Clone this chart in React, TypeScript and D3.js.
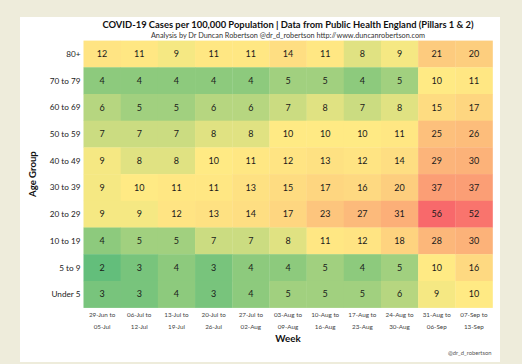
import React from "react";
import * as d3 from "d3";

const weeksStart = ["29-Jun to", "06-Jul to", "13-Jul to", "20-Jul to", "27-Jul to", "03-Aug to", "10-Aug to", "17-Aug to", "24-Aug to", "31-Aug to", "07-Sep to"];
const weeksEnd = ["05-Jul", "12-Jul", "19-Jul", "26-Jul", "02-Aug", "09-Aug", "16-Aug", "23-Aug", "30-Aug", "06-Sep", "13-Sep"];
const ageGroups = ["80+", "70 to 79", "60 to 69", "50 to 59", "40 to 49", "30 to 39", "20 to 29", "10 to 19", "5 to 9", "Under 5"];

const age80plus = [12, 11, 9, 11, 11, 14, 11, 8, 9, 21, 20];
const age70to79 = [4, 4, 4, 4, 4, 5, 5, 4, 5, 10, 11];
const age60to69 = [6, 5, 5, 6, 6, 7, 8, 7, 8, 15, 17];
const age50to59 = [7, 7, 7, 8, 8, 10, 10, 10, 11, 25, 26];
const age40to49 = [9, 8, 8, 10, 11, 12, 13, 12, 14, 29, 30];
const age30to39 = [9, 10, 11, 11, 13, 15, 17, 16, 20, 37, 37];
const age20to29 = [9, 9, 12, 13, 14, 17, 23, 27, 31, 56, 52];
const age10to19 = [4, 5, 5, 7, 7, 8, 11, 12, 18, 28, 30];
const age5to9 = [2, 3, 4, 3, 4, 4, 5, 4, 5, 10, 16];
const ageUnder5 = [3, 3, 4, 3, 4, 5, 5, 5, 6, 9, 10];

const rows = [age80plus, age70to79, age60to69, age50to59, age40to49, age30to39, age20to29, age10to19, age5to9, ageUnder5];

const FONT = "Lato, 'Open Sans', sans-serif";

export default function App() {
  const W = 522, H = 364;
  const left = 83.5, right = 492.5, top = 40.6, bottom = 307.6;
  const x = d3.scaleBand<number>().domain(d3.range(weeksStart.length)).range([left, right]).padding(0);
  const y = d3.scaleBand<string>().domain(ageGroups).range([top, bottom]).padding(0);
  const all = rows.flat();
  const color = d3.scaleLinear<string>()
    .domain([d3.min(all) as number, 9.5, d3.max(all) as number])
    .range(["#63BE7B", "#FFEB84", "#F8696B"])
    .interpolate(d3.interpolateRgb);

  const cx = (left + right) / 2;

  return (
    <div style={{ position: "fixed", left: 0, top: 0 }}>
      <svg width={W} height={H} style={{ display: "block" }}>
        <rect x={0} y={0} width={W} height={H} fill="#eeecdb" />
        <rect x={20} y={17} width={480} height={345} fill="#ffffff" />
        <text x={cx} y={27.5} textAnchor="middle" fontFamily={FONT} fontWeight="bold" fontSize={9.4} fill="#111">
          COVID-19 Cases per 100,000 Population | Data from Public Health England (Pillars 1 &amp; 2)
        </text>
        <text x={cx} y={37.5} textAnchor="middle" fontFamily={FONT} fontSize={7.3} fill="#333">
          Analysis by Dr Duncan Robertson @dr_d_robertson http://www.duncanrobertson.com
        </text>
        {rows.map((vals, ri) =>
          vals.map((v, ci) => (
            <g key={`${ri}-${ci}`}>
              <rect
                x={x(ci)}
                y={y(ageGroups[ri])}
                width={x.bandwidth() + 0.3}
                height={y.bandwidth() + 0.3}
                fill={color(v)}
              />
              <text
                x={(x(ci) as number) + x.bandwidth() / 2}
                y={(y(ageGroups[ri]) as number) + y.bandwidth() / 2}
                dy="0.36em"
                textAnchor="middle"
                fontFamily={FONT}
                fontSize={9}
                fill="#1a1a1a"
              >
                {v}
              </text>
            </g>
          ))
        )}
        {ageGroups.map((g) => (
          <text
            key={g}
            x={80.5}
            y={(y(g) as number) + y.bandwidth() / 2}
            dy="0.36em"
            textAnchor="end"
            fontFamily={FONT}
            fontSize={8.2}
            fill="#222"
          >
            {g}
          </text>
        ))}
        {weeksStart.map((w, i) => (
          <g key={w}>
            <text x={(x(i) as number) + x.bandwidth() / 2} y={317} textAnchor="middle" fontFamily={FONT} fontSize={6.3} fill="#444">
              {w}
            </text>
            <text x={(x(i) as number) + x.bandwidth() / 2} y={328.5} textAnchor="middle" fontFamily={FONT} fontSize={6.3} fill="#444">
              {weeksEnd[i]}
            </text>
          </g>
        ))}
        <text x={cx} y={341.5} textAnchor="middle" fontFamily={FONT} fontWeight="bold" fontSize={9.8} fill="#111">
          Week
        </text>
        <text
          transform={`translate(35.5, ${(top + bottom) / 2}) rotate(-90)`}
          textAnchor="middle"
          fontFamily={FONT}
          fontWeight="bold"
          fontSize={9.6}
          fill="#111"
        >
          Age Group
        </text>
        <text x={491.5} y={355} textAnchor="end" fontFamily={FONT} fontSize={5.8} fill="#555">
          @dr_d_robertson
        </text>
      </svg>
    </div>
  );
}
